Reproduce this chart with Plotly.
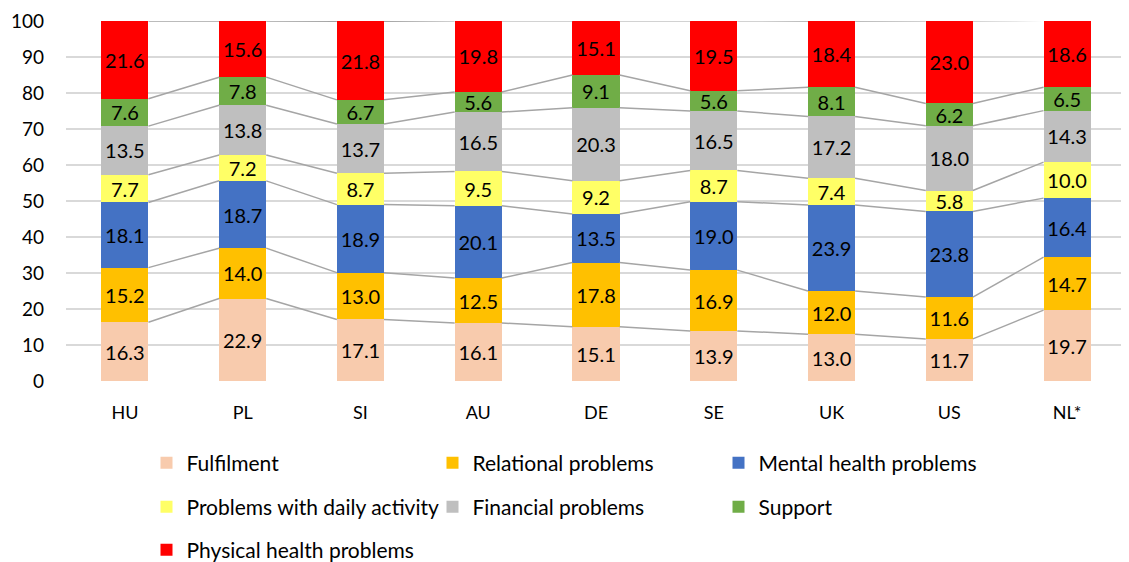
import plotly.graph_objects as go
import numpy as np

categories = ["HU", "PL", "SI", "AU", "DE", "SE", "UK", "US", "NL*"]
series_names = ["Fulfilment", "Relational problems", "Mental health problems",
                "Problems with daily activity", "Financial problems", "Support",
                "Physical health problems"]
fulfilment = [16.3, 22.9, 17.1, 16.1, 15.1, 13.9, 13.0, 11.7, 19.7]
relational = [15.2, 14.0, 13.0, 12.5, 17.8, 16.9, 12.0, 11.6, 14.7]
mental = [18.1, 18.7, 18.9, 20.1, 13.5, 19.0, 23.9, 23.8, 16.4]
daily = [7.7, 7.2, 8.7, 9.5, 9.2, 8.7, 7.4, 5.8, 10.0]
financial = [13.5, 13.8, 13.7, 16.5, 20.3, 16.5, 17.2, 18.0, 14.3]
support = [7.6, 7.8, 6.7, 5.6, 9.1, 5.6, 8.1, 6.2, 6.5]
physical = [21.6, 15.6, 21.8, 19.8, 15.1, 19.5, 18.4, 23.0, 18.6]
y_ticks = [0, 10, 20, 30, 40, 50, 60, 70, 80, 90, 100]

series = [fulfilment, relational, mental, daily, financial, support, physical]
colors = ["#F8CBAD", "#FFC000", "#4472C4", "#FFFF66", "#BFBFBF", "#70AD47", "#FF0000"]
legend_ids = ["legend", "legend", "legend", "legend2", "legend2", "legend2", "legend3"]

FONT = "Lato, 'Open Sans', sans-serif"
BW = 0.4
x = np.arange(len(categories))

# page body has an 8px margin; size the figure so it fits the 1129x562 window
W, H = 1121, 554

fig = go.Figure()

# connector lines between bar tops
cum = np.zeros(len(categories))
for vals in series:
    cum = cum + np.array(vals)
    lx, ly = [], []
    for i in range(len(categories) - 1):
        lx += [x[i] + BW / 2, x[i + 1] - BW / 2, None]
        ly += [cum[i], cum[i + 1], None]
    fig.add_trace(go.Scatter(x=lx, y=ly, mode="lines",
                             line=dict(color="#A5A5A5", width=1.5),
                             showlegend=False, hoverinfo="skip"))

for name, vals, c, lg in zip(series_names, series, colors, legend_ids):
    fig.add_trace(go.Bar(
        x=x, y=vals, name=name, width=BW, legend=lg,
        marker=dict(color=c, line=dict(width=0)),
        text=[f"{v:.1f}" for v in vals], textposition="inside",
        insidetextanchor="middle",
        textfont=dict(color="black", size=20, family=FONT),
    ))

leg_common = dict(orientation="h", xref="container", yref="container",
                  x=138.5 / W, xanchor="left", yanchor="middle",
                  traceorder="normal", entrywidth=241, entrywidthmode="pixels",
                  font=dict(size=21, family=FONT, color="black"),
                  bgcolor="rgba(0,0,0,0)")

fig.update_layout(
    barmode="stack",
    width=W, height=H,
    margin=dict(l=58, r=3, t=13, b=181, autoexpand=False),
    plot_bgcolor="white", paper_bgcolor="white",
    font=dict(family=FONT, size=19, color="black"),
    uniformtext=dict(minsize=20, mode="show"),
    xaxis=dict(tickmode="array", tickvals=x, ticktext=categories,
               range=[-0.5, len(categories) - 0.5], showgrid=False,
               zeroline=False, showline=False, ticks="",
               ticklabelstandoff=19,
               tickfont=dict(size=18, family=FONT)),
    yaxis=dict(range=[0, 100], tickvals=y_ticks, showgrid=True,
               gridcolor="#D9D9D9", gridwidth=1.5, zeroline=False,
               ticks="", ticklabelstandoff=21,
               tickfont=dict(size=19, family=FONT)),
    legend=dict(leg_common, y=1 - 455 / H),
    legend2=dict(leg_common, y=1 - 499 / H),
    legend3=dict(leg_common, y=1 - 542 / H),
    showlegend=True,
)

fig.write_html("out.html")
